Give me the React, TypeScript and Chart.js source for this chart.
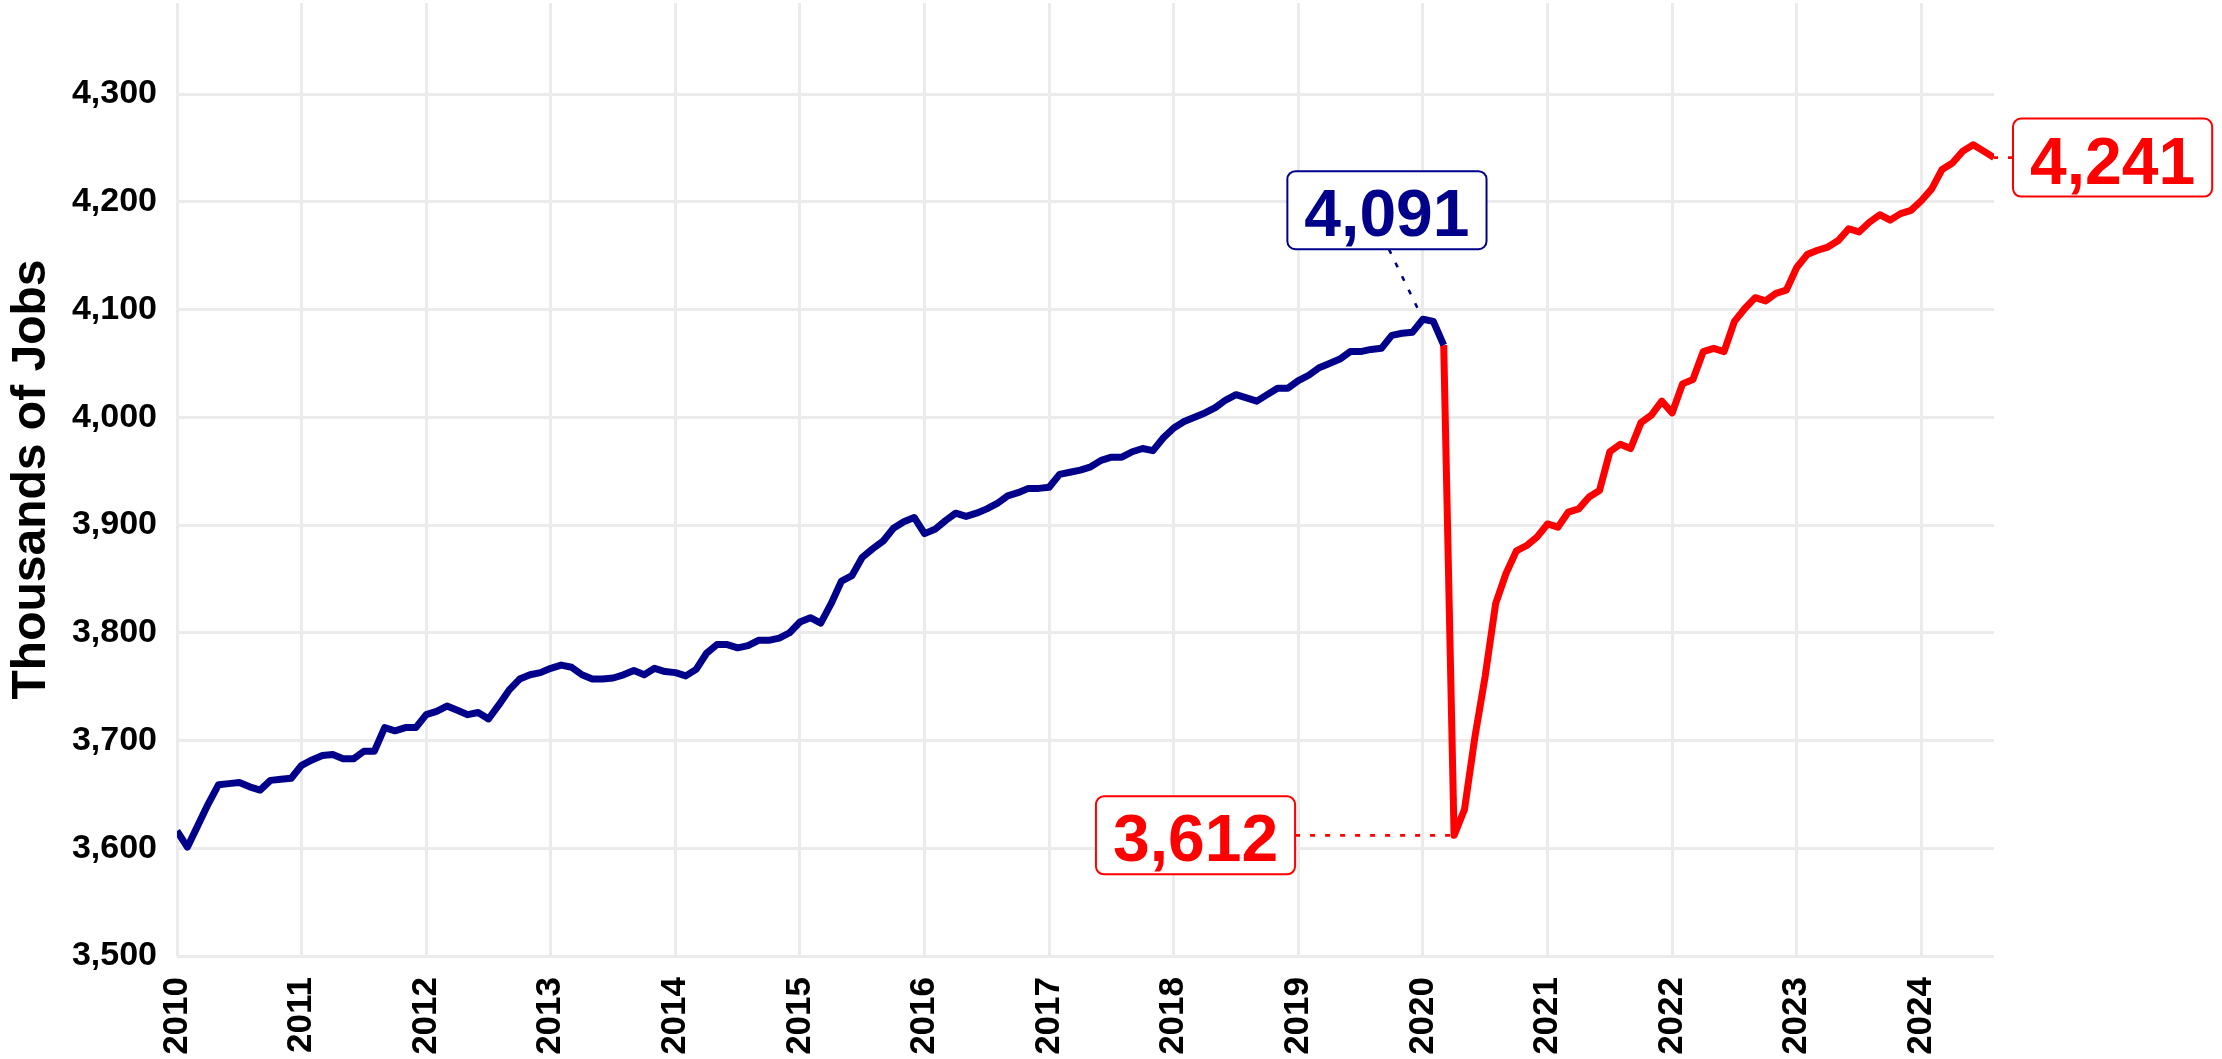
import React, { useEffect, useRef } from 'react';
import { Chart, registerables } from 'chart.js';

Chart.register(...registerables);

// ---------- data ----------
const START_YEAR = 2010;

// Monthly jobs, thousands: Jan 2010 – Mar 2020
const preCovidJobs: number[] = [
  3616, 3601, 3621, 3641, 3659, 3660, 3661, 3657, 3654, 3663, 3664, 3665,
  3677, 3682, 3686, 3687, 3683, 3683, 3690, 3690, 3712, 3709, 3712, 3712,
  3724, 3727, 3732, 3728, 3724, 3726, 3720, 3733, 3747, 3757, 3761, 3763,
  3767, 3770, 3768, 3761, 3757, 3757, 3758, 3761, 3765, 3761, 3767, 3764,
  3763, 3760, 3766, 3781, 3789, 3789, 3786, 3788, 3793, 3793, 3795, 3800,
  3810, 3814, 3809, 3827, 3848, 3853, 3870, 3878, 3885, 3897, 3903, 3907,
  3892, 3896, 3904, 3911, 3908, 3911, 3915, 3920, 3927, 3930, 3934, 3934,
  3935, 3947, 3949, 3951, 3954, 3960, 3963, 3963, 3968, 3971, 3969, 3981,
  3990, 3996, 4000, 4004, 4009, 4016, 4021, 4018, 4015, 4021, 4027, 4027,
  4034, 4039, 4046, 4050, 4054, 4061, 4061, 4063, 4064, 4076, 4078, 4079,
  4091, 4089, 4067,
];

// Monthly jobs, thousands: Mar 2020 – Aug 2024
const covidJobs: number[] = [
  4067, 3612, 3636, 3703, 3760, 3827, 3855, 3876, 3881, 3889,
  3901, 3898, 3912, 3915, 3926, 3932, 3968, 3975, 3971, 3995, 4002, 4015,
  4004, 4031, 4035, 4061, 4064, 4061, 4089, 4101, 4111, 4108, 4115, 4118,
  4139, 4151, 4155, 4158, 4164, 4175, 4172, 4181, 4188, 4183, 4189, 4192,
  4201, 4212, 4230, 4236, 4247, 4253, 4247, 4241,
];

const yearTicks: number[] = [2010, 2011, 2012, 2013, 2014, 2015, 2016, 2017, 2018, 2019, 2020, 2021, 2022, 2023, 2024];
const jobTicks: number[] = [3500, 3600, 3700, 3800, 3900, 4000, 4100, 4200, 4300];
const yAxisTitle = 'Thousands of Jobs';

// ---------- styles ----------
const BLUE = '#00008B';
const RED = '#FF0000';
const GRID = '#EBEBEB';
const FONT = "'Liberation Sans', Arial, Helvetica, sans-serif";

const fmt = (v: number) => v.toLocaleString('en-US');

const covidOffset = preCovidJobs.length - 1;
const bluePoints = preCovidJobs.map((v, i) => ({ x: START_YEAR + i / 12, y: v }));
const redPoints = covidJobs.map((v, i) => ({ x: START_YEAR + (i + covidOffset) / 12, y: v }));
const lastX = START_YEAR + (covidOffset + covidJobs.length - 1) / 12;

function roundRect(ctx: CanvasRenderingContext2D, x: number, y: number, w: number, h: number, r: number) {
  ctx.beginPath();
  ctx.moveTo(x + r, y);
  ctx.lineTo(x + w - r, y);
  ctx.arcTo(x + w, y, x + w, y + r, r);
  ctx.lineTo(x + w, y + h - r);
  ctx.arcTo(x + w, y + h, x + w - r, y + h, r);
  ctx.lineTo(x + r, y + h);
  ctx.arcTo(x, y + h, x, y + h - r, r);
  ctx.lineTo(x, y + r);
  ctx.arcTo(x, y, x + r, y, r);
  ctx.closePath();
}

const labelPlugin = {
  id: 'repelLabels',
  afterDatasetsDraw(chart: any) {
    const ctx: CanvasRenderingContext2D = chart.ctx;
    const xs = chart.scales.x;
    const ys = chart.scales.y;

    const peakIdx = preCovidJobs.indexOf(Math.max(...preCovidJobs));
    const troughIdx = covidJobs.indexOf(Math.min(...covidJobs));
    const lastIdx = covidJobs.length - 1;

    const items = [
      { p: bluePoints[peakIdx], color: BLUE, place: 'above' },
      { p: redPoints[troughIdx], color: RED, place: 'left' },
      { p: redPoints[lastIdx], color: RED, place: 'right' },
    ];

    ctx.save();
    ctx.font = `bold 66px ${FONT}`;
    for (const it of items) {
      const px = xs.getPixelForValue(it.p.x);
      const py = ys.getPixelForValue(it.p.y);
      const text = fmt(it.p.y);
      const tw = ctx.measureText(text).width;
      const w = tw + 34;
      const h = 78;
      let bx: number, by: number;
      if (it.place === 'above') {
        bx = px - 36 - w / 2;
        by = py - 109 - h / 2;
      } else if (it.place === 'left') {
        bx = px - 159 - w;
        by = py - h / 2;
      } else {
        bx = px + 19;
        by = py - h / 2;
      }
      let ex: number, ey: number;
      if (it.place === 'above') {
        ey = by + h;
        ex = px - 34;
      } else if (it.place === 'left') {
        ex = bx + w;
        ey = py;
      } else {
        ex = bx;
        ey = py;
      }
      ctx.save();
      ctx.strokeStyle = it.color;
      ctx.lineWidth = 2.6;
      ctx.setLineDash([5, 10]);
      ctx.beginPath();
      ctx.moveTo(ex, ey);
      ctx.lineTo(px, py);
      ctx.stroke();
      ctx.restore();

      roundRect(ctx, bx, by, w, h, 8);
      ctx.fillStyle = '#FFFFFF';
      ctx.fill();
      ctx.lineWidth = 2;
      ctx.strokeStyle = it.color;
      ctx.stroke();

      ctx.fillStyle = it.color;
      ctx.textAlign = 'center';
      ctx.textBaseline = 'alphabetic';
      ctx.fillText(text, bx + w / 2, by + 65);
    }
    ctx.restore();
  },
};

export default function App() {
  const ref = useRef<HTMLCanvasElement | null>(null);

  useEffect(() => {
    if (!ref.current) return;
    Chart.defaults.font.family = FONT;
    const chart = new Chart(ref.current, {
      type: 'line',
      data: {
        datasets: [
          {
            data: bluePoints,
            borderColor: BLUE,
            borderWidth: 7,
            pointRadius: 0,
            tension: 0,
            borderJoinStyle: 'round',
            borderCapStyle: 'butt',
            fill: false,
          },
          {
            data: redPoints,
            borderColor: RED,
            borderWidth: 7,
            pointRadius: 0,
            tension: 0,
            borderJoinStyle: 'round',
            borderCapStyle: 'butt',
            fill: false,
          },
        ],
      },
      options: {
        animation: false,
        responsive: false,
        events: [],
        parsing: false,
        layout: { padding: { left: 0, right: 228, top: 3, bottom: 0 } },
        plugins: {
          legend: { display: false },
          tooltip: { enabled: false },
          title: { display: false },
        },
        scales: {
          x: {
            type: 'linear',
            min: START_YEAR,
            max: lastX,
            afterBuildTicks: (s: any) => {
              s.ticks = yearTicks.map((v) => ({ value: v }));
            },
            afterFit: (s: any) => {
              s.height = 103;
              s.paddingLeft = 0;
              s.paddingRight = 0;
            },
            grid: { color: GRID, lineWidth: 3, drawTicks: false },
            border: { display: false },
            ticks: {
              autoSkip: false,
              minRotation: 90,
              maxRotation: 90,
              padding: 21,
              color: '#000000',
              font: { size: 35, weight: 'bold', family: FONT },
              callback: (v: any) => String(v),
            },
          },
          y: {
            type: 'linear',
            min: 3500,
            max: 4384.5,
            afterBuildTicks: (s: any) => {
              s.ticks = jobTicks.map((v) => ({ value: v }));
            },
            afterFit: (s: any) => {
              s.width = 177;
              s.paddingTop = 0;
              s.paddingBottom = 0;
            },
            grid: { color: GRID, lineWidth: 3, drawTicks: false },
            border: { display: false },
            ticks: {
              padding: 20,
              color: '#000000',
              font: { size: 34, weight: 'bold', family: FONT },
              callback: (v: any) => fmt(Number(v)),
            },
            title: {
              display: true,
              text: yAxisTitle,
              color: '#000000',
              font: { size: 48, weight: 'bold', family: FONT, lineHeight: 1.2 },
              padding: { top: 3, bottom: 0 },
            },
          },
        },
      },
      plugins: [labelPlugin],
    } as any);
    return () => chart.destroy();
  }, []);

  return (
    <canvas
      ref={ref}
      width={2222}
      height={1059}
      style={{ position: 'fixed', left: 0, top: 0, width: 2222, height: 1059, display: 'block', background: '#FFFFFF' }}
    />
  );
}
